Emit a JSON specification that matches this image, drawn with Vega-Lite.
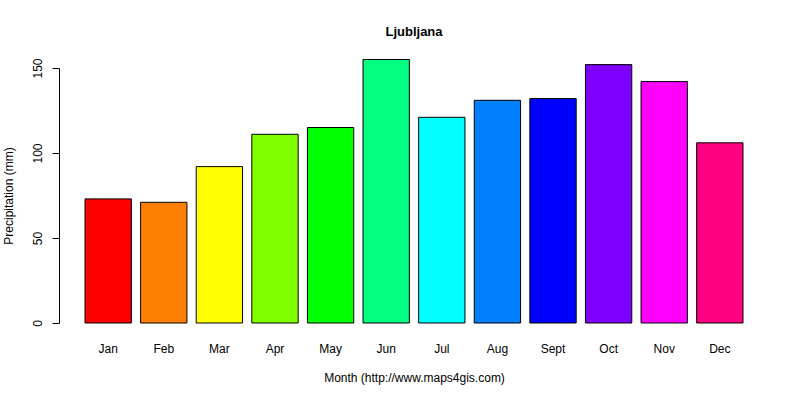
{
  "$schema": "https://vega.github.io/schema/vega-lite/v6.json",
  "autosize": "none",
  "width": 658,
  "height": 255,
  "padding": {"left": 85, "top": 68, "right": 57, "bottom": 77},
  "background": "white",
  "config": {
    "font": "Liberation Sans",
    "view": {"stroke": null},
    "axis": {"grid": false, "labelFont": "Liberation Sans", "titleFont": "Liberation Sans", "labelFontSize": 12, "titleFontSize": 12, "titleFontWeight": "normal", "labelColor": "black", "titleColor": "black"}
  },
  "title": {
    "text": "Ljubljana",
    "font": "Liberation Sans",
    "fontSize": 13,
    "fontWeight": "bold",
    "anchor": "middle",
    "offset": 19,
    "color": "black"
  },
  "data": {
    "values": [
      {"month": "Jan", "precip": 73},
      {"month": "Feb", "precip": 71},
      {"month": "Mar", "precip": 92},
      {"month": "Apr", "precip": 111},
      {"month": "May", "precip": 115},
      {"month": "Jun", "precip": 155},
      {"month": "Jul", "precip": 121},
      {"month": "Aug", "precip": 131},
      {"month": "Sept", "precip": 132},
      {"month": "Oct", "precip": 152},
      {"month": "Nov", "precip": 142},
      {"month": "Dec", "precip": 106}
    ]
  },
  "mark": {"type": "bar", "stroke": "black", "strokeWidth": 1, "opacity": 1},
  "encoding": {
    "x": {
      "field": "month",
      "type": "nominal",
      "sort": null,
      "scale": {"paddingInner": 0.1667, "paddingOuter": 0},
      "title": "Month (http://www.maps4gis.com)",
      "axis": {"domain": false, "ticks": false, "labelAngle": 0, "labelPadding": 20, "titlePadding": 18}
    },
    "y": {
      "field": "precip",
      "type": "quantitative",
      "scale": {"domain": [0, 150], "nice": false},
      "title": "Precipitation (mm)",
      "axis": {
        "values": [0, 50, 100, 150],
        "offset": 26,
        "tickSize": 7,
        "tickColor": "black",
        "domainColor": "black",
        "labelAngle": -90,
        "labelAlign": "center",
        "labelBaseline": "bottom",
        "labelPadding": 8,
        "titlePadding": 16
      }
    },
    "color": {
      "field": "month",
      "type": "nominal",
      "sort": null,
      "scale": {
        "domain": ["Jan", "Feb", "Mar", "Apr", "May", "Jun", "Jul", "Aug", "Sept", "Oct", "Nov", "Dec"],
        "range": ["#FF0000", "#FF8000", "#FFFF00", "#80FF00", "#00FF00", "#00FF80", "#00FFFF", "#0080FF", "#0000FF", "#8000FF", "#FF00FF", "#FF0080"]
      },
      "legend": null
    }
  }
}
